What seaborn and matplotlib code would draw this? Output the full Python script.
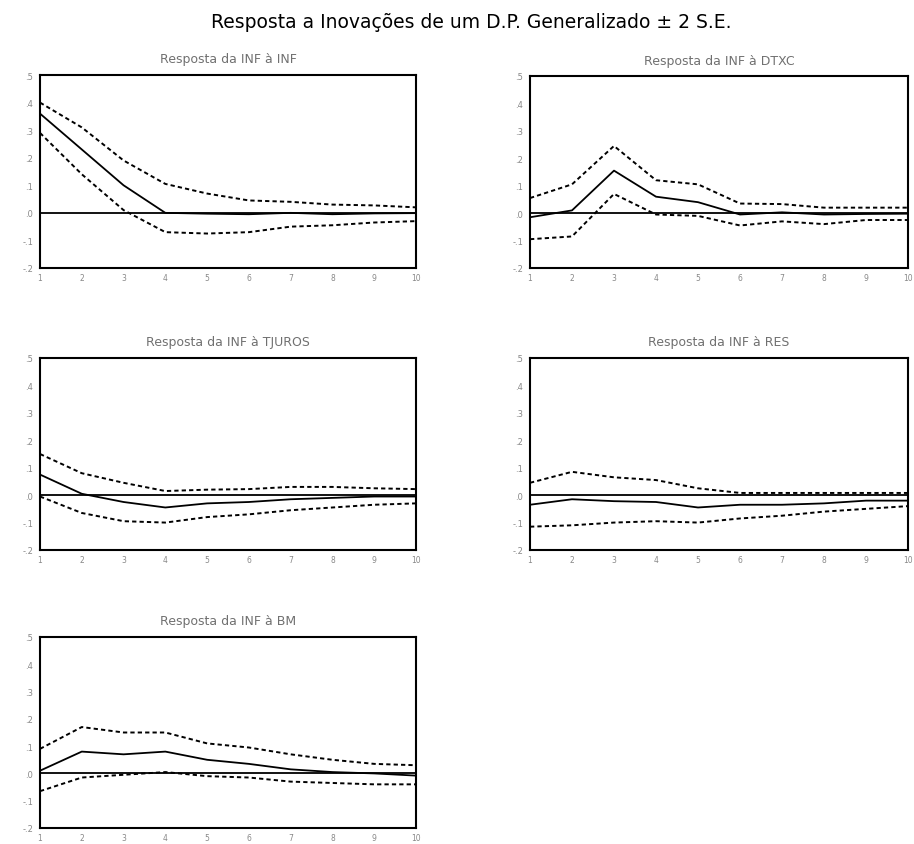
import pandas as pd
import seaborn as sns
import matplotlib.pyplot as plt
from matplotlib.ticker import FuncFormatter

# horizon (periods after the shock)
periods = list(range(1, 11))

# response of INF to INF
inf_mid = [0.36, 0.23, 0.10, 0.00, -0.003, -0.005, 0.0, -0.005, -0.002, -0.001]
inf_up = [0.40, 0.31, 0.19, 0.105, 0.07, 0.045, 0.04, 0.03, 0.027, 0.02]
inf_lo = [0.29, 0.14, 0.01, -0.07, -0.075, -0.07, -0.05, -0.045, -0.035, -0.03]

# response of INF to DTXC
dtxc_mid = [-0.015, 0.01, 0.155, 0.06, 0.04, -0.005, 0.003, -0.005, -0.003, -0.002]
dtxc_up = [0.055, 0.105, 0.245, 0.12, 0.105, 0.035, 0.033, 0.02, 0.02, 0.02]
dtxc_lo = [-0.095, -0.085, 0.07, -0.005, -0.01, -0.045, -0.03, -0.04, -0.025, -0.025]

# response of INF to TJUROS
tjuros_mid = [0.075, 0.005, -0.025, -0.045, -0.03, -0.025, -0.015, -0.01, -0.005, -0.005]
tjuros_up = [0.15, 0.08, 0.045, 0.015, 0.02, 0.022, 0.03, 0.03, 0.025, 0.022]
tjuros_lo = [-0.005, -0.065, -0.095, -0.10, -0.08, -0.07, -0.055, -0.045, -0.035, -0.03]

# response of INF to RES
res_mid = [-0.035, -0.015, -0.022, -0.025, -0.045, -0.035, -0.035, -0.03, -0.02, -0.02]
res_up = [0.045, 0.085, 0.065, 0.055, 0.025, 0.008, 0.008, 0.008, 0.008, 0.008]
res_lo = [-0.115, -0.11, -0.10, -0.095, -0.10, -0.085, -0.075, -0.06, -0.05, -0.04]

# response of INF to BM
bm_mid = [0.01, 0.08, 0.07, 0.08, 0.05, 0.035, 0.015, 0.005, 0.0, -0.008]
bm_up = [0.09, 0.17, 0.15, 0.15, 0.11, 0.095, 0.07, 0.05, 0.035, 0.03]
bm_lo = [-0.065, -0.015, -0.005, 0.005, -0.01, -0.015, -0.03, -0.035, -0.04, -0.04]

main_title = "Resposta a Inovações de um D.P. Generalizado ± 2 S.E."
panel_titles = [
    "Resposta da INF à INF",
    "Resposta da INF à DTXC",
    "Resposta da INF à TJUROS",
    "Resposta da INF à RES",
    "Resposta da INF à BM",
]
panel_data = [
    (inf_mid, inf_up, inf_lo),
    (dtxc_mid, dtxc_up, dtxc_lo),
    (tjuros_mid, tjuros_up, tjuros_lo),
    (res_mid, res_up, res_lo),
    (bm_mid, bm_up, bm_lo),
]
y_ticks = [-0.2, -0.1, 0.0, 0.1, 0.2, 0.3, 0.4, 0.5]

sns.set_style("white")
plt.rcParams['font.family'] = ['DejaVu Sans']

W, H = 914, 845
fig = plt.figure(figsize=(W / 100, H / 100), dpi=100)

# axes boxes in pixels: left, top, right, bottom
boxes = [
    (40, 76, 416, 269),
    (530, 77, 908, 269),
    (40, 359, 416, 551),
    (530, 359, 908, 551),
    (40, 638, 416, 829),
]


def fmt_y(v, pos):
    s = f"{v:.1f}"
    return s.replace("0.", ".")


for (l, t, r, b), title, (mid, up, lo) in zip(boxes, panel_titles, panel_data):
    ax = fig.add_axes([l / W, 1 - b / H, (r - l) / W, (b - t) / H])
    df = pd.DataFrame({
        "period": periods * 3,
        "value": mid + up + lo,
        "series": ["mid"] * 10 + ["up"] * 10 + ["lo"] * 10,
    })
    sns.lineplot(data=df[df.series == "mid"], x="period", y="value", ax=ax,
                 color="black", linewidth=1.3)
    for s in ["up", "lo"]:
        sns.lineplot(data=df[df.series == s], x="period", y="value", ax=ax,
                     color="black", linewidth=1.4, linestyle=(0, (2.2, 1.6)))
    ax.axhline(0, color="black", linewidth=1.3)
    ax.set_xlim(1, 10)
    ax.set_ylim(-0.2, 0.5)
    ax.set_xticks(periods)
    ax.set_yticks(y_ticks)
    ax.yaxis.set_major_formatter(FuncFormatter(fmt_y))
    ax.set_xlabel("")
    ax.set_ylabel("")
    ax.tick_params(axis="y", direction="out", length=3.5, width=1.2,
                   color="black", labelsize=6, labelcolor="#888888", pad=1.5)
    ax.tick_params(axis="x", direction="out", length=2.5, width=1.2,
                   color="black", labelsize=5.5, labelcolor="#888888", pad=0.8)
    for sp in ax.spines.values():
        sp.set_linewidth(1.5)
        sp.set_color("black")
    ax.set_title(title, fontsize=9, color="#707070", pad=9)

fig.text(471 / W, 1 - 23 / H, main_title, ha="center", va="center",
         fontsize=13.5, color="black")

fig.savefig("out.png", dpi=100)
